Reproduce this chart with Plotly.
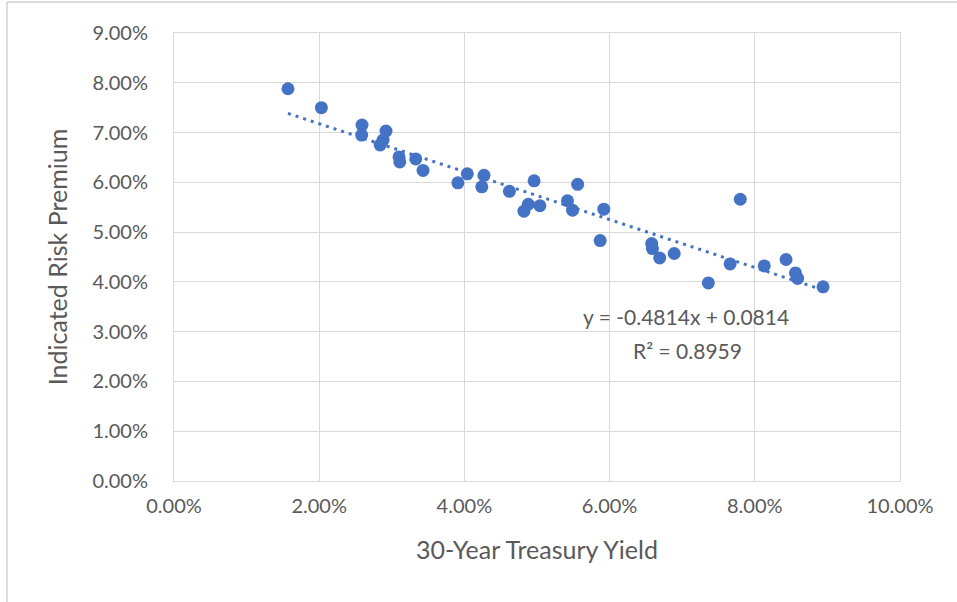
import numpy as np
import plotly.graph_objects as go

# 30-year Treasury yield vs. indicated equity risk premium (fractions)
treasury_yield = [
    0.0157, 0.0203, 0.0259, 0.02585, 0.0292, 0.0288, 0.0284, 0.0310, 0.0311,
    0.0333, 0.0343, 0.0391, 0.0404, 0.0427, 0.0424, 0.0462, 0.0496, 0.0482,
    0.0488, 0.0504, 0.0556, 0.0542, 0.0549, 0.0592, 0.0587, 0.0658, 0.0659,
    0.0669, 0.0689, 0.0780, 0.0736, 0.0766, 0.0813, 0.0843, 0.0856, 0.0859,
    0.0894,
]
risk_premium = [
    0.0788, 0.0750, 0.0715, 0.0695, 0.0703, 0.0685, 0.0675, 0.0651, 0.0641,
    0.0647, 0.0624, 0.0599, 0.0617, 0.0614, 0.0591, 0.0582, 0.0603, 0.0542,
    0.0556, 0.0553, 0.0596, 0.0563, 0.0544, 0.0546, 0.0483, 0.0477, 0.0467,
    0.0448, 0.0457, 0.0566, 0.0398, 0.0436, 0.0432, 0.0445, 0.0418, 0.0407,
    0.0390,
]

# Linear trendline coefficients and fit statistic
slope = -0.4814
intercept = 0.0814
r_squared = 0.8959

BLUE = "#4472C4"
GRID = "#D9D9D9"
TEXT = "#595959"
FONT = "Lato"

x_fit = np.array([min(treasury_yield), max(treasury_yield)])
y_fit = slope * x_fit + intercept

fig = go.Figure()
fig.add_trace(go.Scatter(
    x=x_fit, y=y_fit, mode="lines",
    line=dict(color=BLUE, width=3, dash="3px,5px"),
    hoverinfo="skip", showlegend=False,
))
fig.add_trace(go.Scatter(
    x=treasury_yield, y=risk_premium, mode="markers",
    marker=dict(color=BLUE, size=13, line=dict(width=0)),
    showlegend=False,
))

fig.add_annotation(
    x=0.0705, y=0.0330, xref="x", yref="y", showarrow=False,
    text=f"y = {slope:.4f}x + {intercept:.4f}",
    font=dict(family=FONT, size=21, color=TEXT),
)
fig.add_annotation(
    x=0.0707, y=0.0263, xref="x", yref="y", showarrow=False,
    text=f"R² = {r_squared:.4f}",
    font=dict(family=FONT, size=21, color=TEXT),
)

# Outer chart frame (top and left edges)
fig.add_shape(type="line", xref="paper", yref="paper",
              x0=-0.230, x1=1.1, y0=1.069, y1=1.069,
              line=dict(color="#D0D0D0", width=1.5))
fig.add_shape(type="line", xref="paper", yref="paper",
              x0=-0.230, x1=-0.230, y0=-0.3, y1=1.069,
              line=dict(color="#D0D0D0", width=1.5))

fig.update_xaxes(
    range=[0, 0.10], dtick=0.02, tick0=0, tickformat=".2%",
    showgrid=True, gridcolor=GRID, gridwidth=1,
    showline=True, linecolor=GRID, linewidth=1, mirror=True,
    zeroline=False, ticks="", ticklabelstandoff=7,
    tickfont=dict(family=FONT, size=20, color=TEXT),
    title=dict(text="30-Year Treasury Yield", standoff=25,
               font=dict(family=FONT, size=25, color=TEXT)),
)
fig.update_yaxes(
    range=[0, 0.09], dtick=0.01, tick0=0, tickformat=".2%",
    showgrid=True, gridcolor=GRID, gridwidth=1,
    showline=True, linecolor=GRID, linewidth=1, mirror=True,
    zeroline=False, ticks="", ticklabelstandoff=21,
    tickfont=dict(family=FONT, size=20, color=TEXT),
    title=dict(text="Indicated Risk Premium", standoff=17,
               font=dict(family=FONT, size=25, color=TEXT)),
)

fig.update_layout(
    width=957, height=602,
    margin=dict(l=174, r=57, t=33, b=121),
    paper_bgcolor="white", plot_bgcolor="white",
    hovermode="closest",
)

fig.write_html("out.html")
